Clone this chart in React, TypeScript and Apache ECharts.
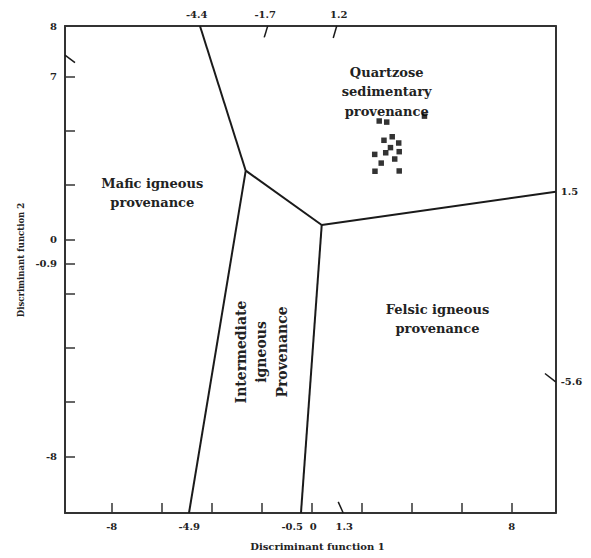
import React, { useEffect, useRef } from "react";
import * as echarts from "echarts";

// Axis extents (discriminant function scores)
const xRange = [-9.87, 9.76];
const yRange = [-10.08, 7.86];

// Tick marks
const xTickValues = [-8, -6, -4, -2, 0, 2, 4, 6, 8];
const yTickValues = [-8, -6, -4, -2, -0.9, 0, 2, 4, 6];

// Tick labels (bottom, top)
const xBottomLabels = [-8, -4.9, -0.5, 0, 1.3, 8];
const xTopLabels = [-4.4, -1.7, 1.2];

// Left labels as printed on the figure (position, text)
const yLeftLabelPos = [7.86, 6, 0, -0.9, -8];
const yLeftLabelText = ["8", "7", "0", "-0.9", "-8"];

// Right labels as printed (position, text)
const yRightLabelPos = [1.75, -5.25];
const yRightLabelText = ["1.5", "-5.6"];

// Field boundary vertices
const triple1 = [-2.64, 2.53];
const triple2 = [0.4, 0.53];
const topEnd = [-4.47, 7.86];
const bottomLeftEnd = [-4.91, -10.08];
const bottomRightEnd = [-0.43, -10.08];
const rightEnd = [9.76, 1.75];

// Short slanted marks at the frame edges
const edgeMarks = [
  [[-1.76, 7.86], [-1.9, 7.44]],
  [[1.0, 7.86], [0.86, 7.42]],
  [[-9.87, 6.79], [-9.47, 6.51]],
  [[9.33, -4.94], [9.76, -5.25]],
  [[1.06, -9.67], [1.26, -10.08]],
];

// Sample points: DF1, DF2
const sampleDF1 = [2.7, 3.0, 4.51, 2.89, 3.22, 3.48, 3.15, 2.96, 3.5, 2.52, 3.32, 2.78, 2.53, 3.5];
const sampleDF2 = [4.36, 4.32, 4.54, 3.65, 3.78, 3.55, 3.38, 3.19, 3.23, 3.13, 2.96, 2.81, 2.51, 2.52];

const FONT = "DejaVu Serif";
const INK = "#222";

// small horizontal nudges of printed labels (px), as on the figure
const bottomShift: Record<string, number> = { "-0.5": -7, "0": 1.5 };
const topShift: Record<string, number> = { "-4.4": -5, "-1.7": -4, "1.2": -3 };

function richFor(shifts: Record<string, number>) {
  const rich: Record<string, any> = {};
  Object.keys(shifts).forEach((k, i) => {
    const s = shifts[k];
    rich["s" + i] = {
      fontFamily: FONT,
      fontWeight: "bold",
      fontSize: 10,
      color: INK,
      padding: s < 0 ? [0, -2 * s, 0, 0] : [0, 0, 0, 2 * s],
    };
  });
  return rich;
}

function fmtFor(shifts: Record<string, number>) {
  const keys = Object.keys(shifts);
  return (v: number) => {
    const t = String(v);
    const i = keys.indexOf(t);
    return i >= 0 ? `{s${i}|${t}}` : t;
  };
}

function regionText(x: number, y: number, text: string, size: number, lh: number, rotation = 0) {
  return {
    type: "text",
    x,
    y,
    rotation,
    style: {
      text,
      fontFamily: FONT,
      fontWeight: "bold",
      fontSize: size,
      lineHeight: lh,
      fill: INK,
      textAlign: "center",
      textVerticalAlign: "middle",
    },
  };
}

export default function App() {
  const ref = useRef<HTMLDivElement>(null);

  useEffect(() => {
    if (!ref.current) return;
    const chart = echarts.init(ref.current, undefined, { renderer: "svg" });

    const boundaries = [
      [topEnd, triple1],
      [triple1, bottomLeftEnd],
      [triple1, triple2],
      [triple2, rightEnd],
      [triple2, bottomRightEnd],
    ];

    const lineSeries = boundaries.map((seg) => ({
      type: "line",
      data: seg,
      symbol: "none",
      lineStyle: { color: "#1a1a1a", width: 2 },
      silent: true,
    }));

    const markSeries = edgeMarks.map((seg) => ({
      type: "line",
      data: seg,
      symbol: "none",
      lineStyle: { color: "#1a1a1a", width: 1.5 },
      silent: true,
    }));

    const labelStyle = {
      fontFamily: FONT,
      fontWeight: "bold" as const,
      fontSize: 10,
      color: INK,
    };

    const axisLine = { show: true, onZero: false, lineStyle: { color: "#333", width: 2 } };

    const option = {
      animation: false,
      backgroundColor: "#fff",
      grid: { left: 65, right: 35.3, top: 26, bottom: 45, containLabel: false },
      xAxis: [
        {
          type: "value",
          position: "bottom",
          min: xRange[0],
          max: xRange[1],
          axisLine,
          splitLine: { show: false },
          axisTick: {
            show: true,
            inside: true,
            length: 10,
            customValues: xTickValues,
            lineStyle: { color: "#333", width: 1.5 },
          },
          axisLabel: {
            ...labelStyle,
            margin: 8,
            customValues: xBottomLabels,
            formatter: fmtFor(bottomShift),
            rich: richFor(bottomShift),
          },
        },
        {
          type: "value",
          position: "top",
          min: xRange[0],
          max: xRange[1],
          axisLine,
          splitLine: { show: false },
          axisTick: { show: false },
          axisLabel: {
            ...labelStyle,
            margin: 7,
            customValues: xTopLabels,
            formatter: fmtFor(topShift),
            rich: richFor(topShift),
          },
        },
      ],
      yAxis: [
        {
          type: "value",
          position: "left",
          min: yRange[0],
          max: yRange[1],
          axisLine,
          splitLine: { show: false },
          axisTick: {
            show: true,
            inside: true,
            length: 10,
            customValues: yTickValues,
            lineStyle: { color: "#333", width: 1.5 },
          },
          axisLabel: {
            ...labelStyle,
            margin: 8,
            customValues: yLeftLabelPos,
            formatter: (v: number) => {
              const i = yLeftLabelPos.findIndex((p) => Math.abs(p - v) < 1e-6);
              return i >= 0 ? yLeftLabelText[i] : "";
            },
          },
        },
        {
          type: "value",
          position: "right",
          min: yRange[0],
          max: yRange[1],
          axisLine,
          splitLine: { show: false },
          axisTick: { show: false },
          axisLabel: {
            ...labelStyle,
            margin: 5,
            customValues: yRightLabelPos,
            formatter: (v: number) => {
              const i = yRightLabelPos.findIndex((p) => Math.abs(p - v) < 1e-6);
              return i >= 0 ? yRightLabelText[i] : "";
            },
          },
        },
      ],
      series: [
        ...lineSeries,
        ...markSeries,
        {
          type: "scatter",
          symbol: "rect",
          symbolSize: 5.5,
          itemStyle: { color: "#000" },
          data: sampleDF1.map((x, i) => [x, sampleDF2[i]]),
          z: 5,
        },
      ],
      graphic: [
        regionText(386.7, 91.5, "Quartzose\nsedimentary\nprovenance", 13, 19.5),
        regionText(152.3, 193, "Mafic igneous\nprovenance", 13, 19.5),
        regionText(437.5, 319, "Felsic igneous\nprovenance", 13, 19.5),
        regionText(261.2, 352, "Intermediate\nigneous\nProvenance", 14, 20.5, Math.PI / 2),
        {
          type: "text",
          x: 317.5,
          y: 546,
          style: {
            text: "Discriminant function 1",
            fontFamily: FONT,
            fontWeight: "bold",
            fontSize: 10,
            fill: INK,
            textAlign: "center",
            textVerticalAlign: "middle",
          },
        },
        {
          type: "text",
          x: 20.7,
          y: 260,
          rotation: Math.PI / 2,
          style: {
            text: "Discriminant function 2",
            fontFamily: FONT,
            fontWeight: "bold",
            fontSize: 8.5,
            fill: INK,
            textAlign: "center",
            textVerticalAlign: "middle",
          },
        },
      ],
    };

    chart.setOption(option as any);
    return () => chart.dispose();
  }, []);

  return (
    <div
      ref={ref}
      style={{ position: "absolute", left: 0, top: 0, width: 591, height: 558, background: "#fff" }}
    />
  );
}
